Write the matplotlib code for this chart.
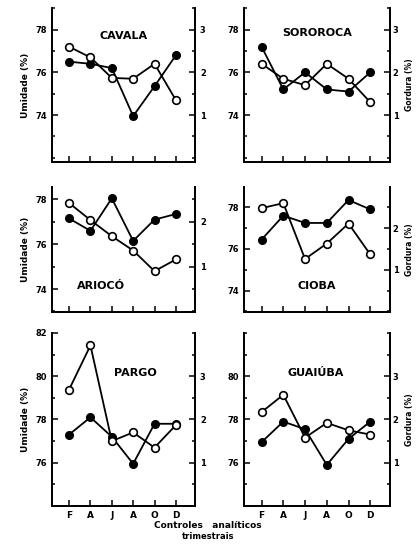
import numpy as np
import matplotlib.pyplot as plt
from matplotlib.ticker import MultipleLocator, FixedLocator

plt.rcParams['font.family'] = ['DejaVu Sans']
plt.rcParams['font.weight'] = 'bold'

# meses de controle
meses = ['F', 'A', 'J', 'A', 'O', 'D']
especies = ['CAVALA', 'SOROROCA', 'ARIOCÓ', 'CIOBA', 'PARGO', 'GUAIÚBA']

# umidade (%) - pontos cheios
umid_cavala = [76.5, 76.4, 76.2, 73.95, 75.35, 76.8]
umid_sororoca = [77.2, 75.2, 76.0, 75.2, 75.1, 76.0]
umid_arioco = [77.15, 76.6, 78.05, 76.15, 77.1, 77.35]
umid_cioba = [76.45, 77.6, 77.25, 77.25, 78.35, 77.9]
umid_pargo = [77.3, 78.1, 77.2, 75.95, 77.8, 77.8]
umid_guaiuba = [76.95, 77.9, 77.55, 75.9, 77.1, 77.9]

# gordura (%) - pontos abertos
gord_cavala = [2.6, 2.35, 1.87, 1.85, 2.2, 1.35]
gord_sororoca = [2.2, 1.85, 1.7, 2.2, 1.85, 1.3]
gord_arioco = [2.42, 2.04, 1.68, 1.36, 0.9, 1.16]
gord_cioba = [2.48, 2.6, 1.26, 1.63, 2.11, 1.37]
gord_pargo = [2.69, 3.71, 1.5, 1.7, 1.35, 1.87]
gord_guaiuba = [2.17, 2.57, 1.58, 1.92, 1.75, 1.65]

umid = [umid_cavala, umid_sororoca, umid_arioco, umid_cioba, umid_pargo, umid_guaiuba]
gord = [gord_cavala, gord_sororoca, gord_arioco, gord_cioba, gord_pargo, gord_guaiuba]

# limites dos eixos
lim_u = [(71.8, 79.0), (71.8, 79.0), (72.98, 78.56), (72.98, 78.98), (74.0, 82.0), (74.0, 82.0)]
off_g = [72, 72, 73, 73, 74, 74]   # escala da direita: gordura = (umidade - off)/2
ticks_u = [[74, 76, 78], [74, 76, 78], [74, 76, 78], [74, 76, 78], [76, 78, 80, 82], [76, 78, 80]]

# posicoes dos paineis (fracoes da figura)
cols = [(0.125, 0.344), (0.587, 0.35)]
rows = [(0.707, 0.278), (0.436, 0.226), (0.085, 0.313)]
titulo_pos = [(0.5, 0.82), (0.5, 0.84), (0.34, 0.21), (0.5, 0.21), (0.58, 0.77), (0.49, 0.77)]

fig = plt.figure(figsize=(4.16, 5.53), dpi=100)
x = np.arange(len(meses))

for i in range(6):
    r, c = i // 2, i % 2
    ax = fig.add_axes([cols[c][0], rows[r][0], cols[c][1], rows[r][1]])
    ax2 = ax.twinx()
    ax.plot(x, umid[i], '-o', color='black', lw=1.3, ms=5.5, mfc='black', zorder=3)
    ax2.plot(x, gord[i], '-o', color='black', lw=1.3, ms=5.5, mfc='white', mew=1.2, zorder=3)
    ax.set_xlim(-0.8, 5.9)
    ax.set_ylim(*lim_u[i])
    ax2.set_ylim((lim_u[i][0] - off_g[i]) / 2, (lim_u[i][1] - off_g[i]) / 2)
    ax.yaxis.set_major_locator(FixedLocator(ticks_u[i]))
    ax.yaxis.set_minor_locator(MultipleLocator(1))
    ax2.yaxis.set_major_locator(FixedLocator([1, 2, 3]))
    ax2.yaxis.set_minor_locator(MultipleLocator(0.5))
    for a in (ax, ax2):
        a.spines['top'].set_visible(False)
        for s in ('left', 'right', 'bottom'):
            a.spines[s].set_linewidth(1.3)
        a.tick_params(which='both', direction='in', labelsize=6, width=1.1)
        a.tick_params(which='major', length=4)
        a.tick_params(which='minor', length=2.5)
    ax.set_xticks(x)
    if r == 2:
        ax.set_xticklabels(meses, fontsize=6.5, fontweight='bold')
    else:
        ax.set_xticklabels([])
    ax.text(titulo_pos[i][0], titulo_pos[i][1], especies[i], transform=ax.transAxes,
            ha='center', va='center', fontsize=8, fontweight='bold')
    if c == 0:
        ax.set_ylabel('Umidade (%)', fontsize=6.5, fontweight='bold', labelpad=4)
    else:
        ax2.tick_params(axis='y', pad=2)
        ax2.set_ylabel('Gordura (%)', fontsize=5.5, fontweight='bold', rotation=90)
        ax2.yaxis.set_label_coords(1.105, 0.5)

fig.text(0.5, 0.045, 'Controles   analíticos', ha='center', fontsize=6.5, fontweight='bold')
fig.text(0.5, 0.025, 'trimestrais', ha='center', fontsize=6, fontweight='bold')

fig.savefig('out.png', dpi=100)
